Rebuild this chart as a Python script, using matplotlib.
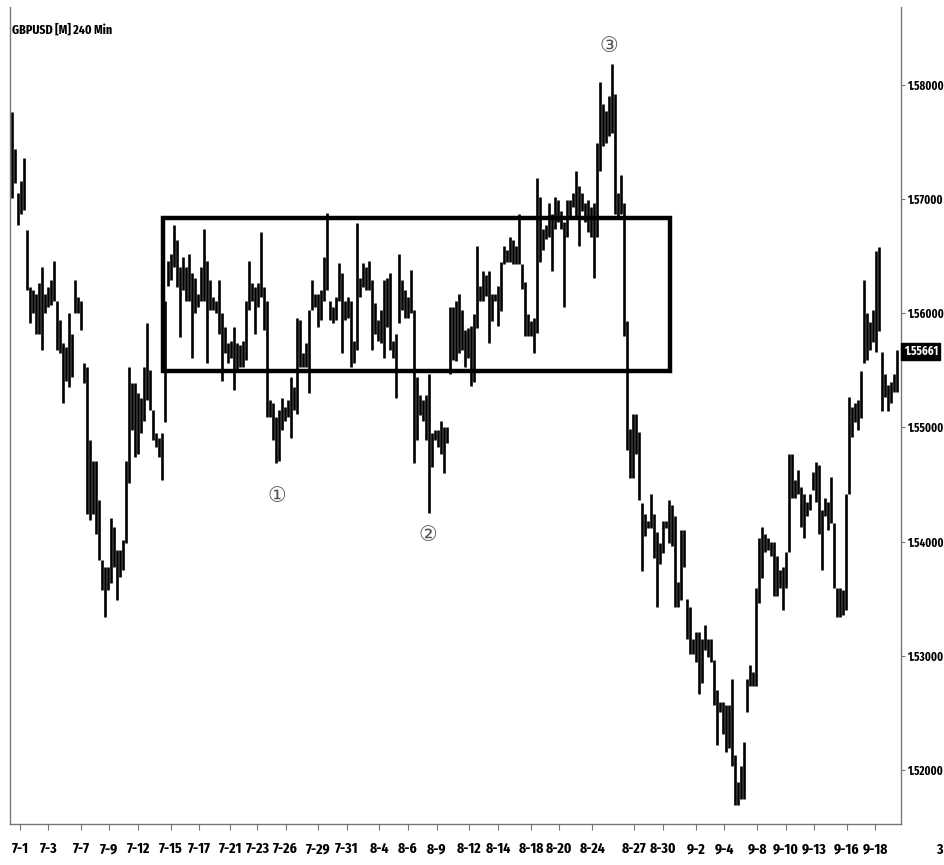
import os
import matplotlib
matplotlib.use("Agg")
import matplotlib.pyplot as plt
from matplotlib import font_manager
from matplotlib.font_manager import FontProperties
from matplotlib.textpath import TextPath
from matplotlib.patches import Rectangle
import numpy as np

# GBPUSD 240 min bars (one entry per ~3 px of the original)
bar_high = [
    1.5776, 1.5744, 1.5705, 1.5716, 1.5736, 1.5673, 1.5623, 1.5620, 1.5617, 1.5626,
    1.5640, 1.5617, 1.5623, 1.5629, 1.5646, 1.5611, 1.5594, 1.5574, 1.5570, 1.5600,
    1.5582, 1.5629, 1.5614, 1.5611, 1.5556, 1.5553, 1.5489, 1.5471, 1.5471, 1.5436,
    1.5384, 1.5378, 1.5378, 1.5421, 1.5413, 1.5393, 1.5393, 1.5401, 1.5471, 1.5553,
    1.5539, 1.5539, 1.5530, 1.5526, 1.5553, 1.5591, 1.5550, 1.5515, 1.5495, 1.5491,
    1.5495, 1.5611, 1.5646, 1.5652, 1.5677, 1.5664, 1.5640, 1.5649, 1.5640, 1.5652,
    1.5635, 1.5631, 1.5617, 1.5640, 1.5674, 1.5646, 1.5629, 1.5614, 1.5611, 1.5629,
    1.5600, 1.5588, 1.5574, 1.5576, 1.5588, 1.5574, 1.5572, 1.5576, 1.5611, 1.5646,
    1.5626, 1.5623, 1.5626, 1.5671, 1.5623, 1.5611, 1.5524, 1.5521, 1.5509, 1.5515,
    1.5526, 1.5518, 1.5524, 1.5544, 1.5535, 1.5596, 1.5594, 1.5565, 1.5574, 1.5603,
    1.5629, 1.5617, 1.5617, 1.5620, 1.5649, 1.5688, 1.5611, 1.5605, 1.5614, 1.5644,
    1.5635, 1.5611, 1.5614, 1.5611, 1.5576, 1.5679, 1.5631, 1.5644, 1.5640, 1.5646,
    1.5629, 1.5609, 1.5594, 1.5603, 1.5629, 1.5631, 1.5635, 1.5576, 1.5582, 1.5652,
    1.5629, 1.5620, 1.5614, 1.5638, 1.5603, 1.5544, 1.5528, 1.5524, 1.5528, 1.5547,
    1.5495, 1.5498, 1.5498, 1.5506, 1.5500, 1.5500, 1.5605, 1.5605, 1.5611, 1.5617,
    1.5603, 1.5585, 1.5587, 1.5589, 1.5599, 1.5659, 1.5624, 1.5637, 1.5633, 1.5637,
    1.5617, 1.5617, 1.5624, 1.5645, 1.5659, 1.5655, 1.5667, 1.5664, 1.5659, 1.5687,
    1.5643, 1.5627, 1.5599, 1.5593, 1.5596, 1.5718, 1.5702, 1.5674, 1.5677, 1.5696,
    1.5687, 1.5702, 1.5699, 1.5689, 1.5680, 1.5699, 1.5699, 1.5705, 1.5724, 1.5711,
    1.5705, 1.5696, 1.5699, 1.5693, 1.5696, 1.5749, 1.5802, 1.5783, 1.5777, 1.5790,
    1.5818, 1.5792, 1.5705, 1.5721, 1.5696, 1.5593, 1.5499, 1.5512, 1.5512, 1.5496,
    1.5434, 1.5424, 1.5418, 1.5442, 1.5424, 1.5408, 1.5399, 1.5418, 1.5418, 1.5436,
    1.5432, 1.5422, 1.5365, 1.5410, 1.5410, 1.5350, 1.5343, 1.5315, 1.5321, 1.5321,
    1.5315, 1.5327, 1.5315, 1.5315, 1.5296, 1.5270, 1.5260, 1.5260, 1.5257, 1.5257,
    1.5280, 1.5213, 1.5190, 1.5204, 1.5225, 1.5280, 1.5292, 1.5286, 1.5359, 1.5403,
    1.5413, 1.5407, 1.5403, 1.5400, 1.5400, 1.5387, 1.5375, 1.5378, 1.5391, 1.5477,
    1.5477, 1.5454, 1.5463, 1.5448, 1.5442, 1.5435, 1.5442, 1.5461, 1.5470, 1.5467,
    1.5428, 1.5438, 1.5435, 1.5457, 1.5416, 1.5359, 1.5359, 1.5358, 1.5442, 1.5527,
    1.5518, 1.5521, 1.5524, 1.5549, 1.5629, 1.5600, 1.5592, 1.5603, 1.5654, 1.5658,
    1.5566, 1.5547, 1.5537, 1.5540, 1.5547, 1.5568,
]
bar_low = [
    1.5701, 1.5714, 1.5677, 1.5687, 1.5690, 1.5620, 1.5591, 1.5600, 1.5582, 1.5582,
    1.5568, 1.5600, 1.5605, 1.5607, 1.5611, 1.5568, 1.5565, 1.5521, 1.5541, 1.5535,
    1.5544, 1.5600, 1.5600, 1.5585, 1.5539, 1.5424, 1.5419, 1.5424, 1.5407, 1.5384,
    1.5358, 1.5334, 1.5358, 1.5364, 1.5378, 1.5349, 1.5369, 1.5375, 1.5399, 1.5451,
    1.5498, 1.5474, 1.5477, 1.5495, 1.5506, 1.5524, 1.5515, 1.5489, 1.5483, 1.5474,
    1.5454, 1.5505, 1.5624, 1.5629, 1.5640, 1.5623, 1.5579, 1.5620, 1.5611, 1.5611,
    1.5561, 1.5600, 1.5605, 1.5611, 1.5611, 1.5556, 1.5603, 1.5603, 1.5600, 1.5582,
    1.5541, 1.5565, 1.5556, 1.5561, 1.5533, 1.5550, 1.5553, 1.5553, 1.5559, 1.5603,
    1.5611, 1.5582, 1.5605, 1.5614, 1.5585, 1.5509, 1.5509, 1.5489, 1.5469, 1.5471,
    1.5498, 1.5506, 1.5509, 1.5491, 1.5515, 1.5512, 1.5553, 1.5553, 1.5553, 1.5530,
    1.5603, 1.5605, 1.5588, 1.5594, 1.5611, 1.5620, 1.5594, 1.5591, 1.5594, 1.5611,
    1.5565, 1.5594, 1.5596, 1.5553, 1.5556, 1.5568, 1.5614, 1.5623, 1.5620, 1.5620,
    1.5568, 1.5582, 1.5576, 1.5574, 1.5561, 1.5588, 1.5568, 1.5561, 1.5526, 1.5591,
    1.5603, 1.5596, 1.5596, 1.5600, 1.5469, 1.5489, 1.5511, 1.5506, 1.5489, 1.5425,
    1.5465, 1.5489, 1.5483, 1.5477, 1.5460, 1.5486, 1.5547, 1.5559, 1.5558, 1.5565,
    1.5568, 1.5553, 1.5561, 1.5536, 1.5540, 1.5587, 1.5611, 1.5611, 1.5615, 1.5574,
    1.5593, 1.5611, 1.5589, 1.5602, 1.5643, 1.5645, 1.5645, 1.5643, 1.5643, 1.5643,
    1.5621, 1.5580, 1.5580, 1.5580, 1.5565, 1.5583, 1.5645, 1.5655, 1.5665, 1.5667,
    1.5637, 1.5674, 1.5680, 1.5674, 1.5605, 1.5667, 1.5683, 1.5693, 1.5683, 1.5659,
    1.5689, 1.5680, 1.5671, 1.5667, 1.5631, 1.5667, 1.5724, 1.5746, 1.5749, 1.5755,
    1.5758, 1.5687, 1.5683, 1.5687, 1.5580, 1.5480, 1.5456, 1.5456, 1.5477, 1.5436,
    1.5374, 1.5405, 1.5412, 1.5412, 1.5386, 1.5343, 1.5380, 1.5390, 1.5412, 1.5399,
    1.5396, 1.5343, 1.5343, 1.5349, 1.5378, 1.5315, 1.5302, 1.5302, 1.5295, 1.5267,
    1.5276, 1.5305, 1.5299, 1.5295, 1.5257, 1.5222, 1.5251, 1.5232, 1.5216, 1.5219,
    1.5204, 1.5169, 1.5169, 1.5175, 1.5175, 1.5251, 1.5274, 1.5274, 1.5274, 1.5346,
    1.5368, 1.5391, 1.5393, 1.5387, 1.5352, 1.5352, 1.5359, 1.5340, 1.5359, 1.5391,
    1.5438, 1.5438, 1.5442, 1.5413, 1.5403, 1.5422, 1.5428, 1.5445, 1.5435, 1.5407,
    1.5375, 1.5422, 1.5410, 1.5416, 1.5359, 1.5334, 1.5334, 1.5336, 1.5340, 1.5442,
    1.5492, 1.5505, 1.5498, 1.5508, 1.5556, 1.5559, 1.5568, 1.5575, 1.5566, 1.5584,
    1.5514, 1.5527, 1.5514, 1.5521, 1.5531, 1.5531,
]
last_price = 1.55661

tick_labels = ["7-1", "7-3", "7-7", "7-9", "7-12", "7-15", "7-17", "7-21", "7-23", "7-26",
               "7-29", "7-31", "8-4", "8-6", "8-9", "8-12", "8-14", "8-18", "8-20", "8-24",
               "8-27", "8-30", "9-2", "9-4", "9-8", "9-10", "9-13", "9-16", "9-18"]
tick_bars = [2.7, 12.1, 23.0, 32.4, 42.1, 53.0, 62.4, 72.7, 81.8, 91.2,
             102.1, 111.6, 122.4, 131.8, 141.6, 152.4, 162.1, 173.0, 182.4, 193.4,
             207.4, 216.9, 228.0, 237.4, 248.4, 257.9, 267.3, 278.2, 287.7]
price_ticks = [1.52, 1.53, 1.54, 1.55, 1.56, 1.57, 1.58]

# trading range box and the numbered touches
box_bars = [50.3, 219.3]
box_prices = [1.5549, 1.5683]
marks = ["\u2460", "\u2461", "\u2462"]
mark_bars = [88.3, 138.7, 199.0]
mark_prices = [1.5440, 1.5406, 1.5834]


def pick_narrow():
    # the platform font is a very condensed bold one: take the narrowest bold face we have
    files = [f.fname for f in font_manager.fontManager.ttflist]
    prefs = ["extracondensed-bold", "extracondensedbold", "condensed-bold", "condensedbold",
             "narrow-bold", "narrowbold", "condbold", "cond-bold", "semicondensed-bold"]
    for p in prefs:
        for fn in sorted(files):
            base = os.path.basename(fn).lower()
            if p in base and "italic" not in base and "semi" not in base.replace(p, ""):
                return FontProperties(fname=fn)
    return FontProperties(family="DejaVu Sans", weight="bold", stretch="condensed")


base_fp = pick_narrow()


def fitted(sample, width_px, height_px):
    # font size that makes `sample` about width_px wide (but no taller than height_px)
    ext = TextPath((0, 0), sample, size=10, prop=base_fp).get_extents()
    size_w = 10 * width_px * 0.72 / ext.width
    size_h = 10 * height_px * 0.72 / ext.height
    fp = base_fp.copy()
    fp.set_size(min(size_w, size_h))
    return fp


ylab_fp = fitted("1.58000", 36, 15)
xlab_fp = fitted("8-12", 24, 21)
title_fp = fitted("GBPUSD [M] 240 Min", 99, 16)

fig = plt.figure(figsize=(9.45, 8.65), dpi=100)
fig.patch.set_facecolor("white")
ax = fig.add_axes([10 / 945, 41 / 865, 891 / 945, 817 / 865])

x = np.arange(len(bar_high))
ax.vlines(x, bar_low, bar_high, color="black", linewidth=1.9)

ax.add_patch(Rectangle((box_bars[0], box_prices[0]), box_bars[1] - box_bars[0],
                       box_prices[1] - box_prices[0], fill=False, edgecolor="black",
                       linewidth=3.2, zorder=3))

for m, b, p in zip(marks, mark_bars, mark_prices):
    ax.text(b, p, m, ha="center", va="center", fontsize=15, color="#555555",
            family=["DejaVu Sans", "Noto Sans CJK JP"])

ax.set_xlim(-0.7, 296.3)
ax.set_ylim(1.51528, 1.5868)

ax.yaxis.tick_right()
ax.set_yticks(price_ticks)
ax.set_yticklabels([f"{p:.5f}" for p in price_ticks], fontproperties=ylab_fp)
ax.set_xticks(tick_bars)
ax.set_xticklabels(tick_labels, fontproperties=xlab_fp)
ax.tick_params(axis="y", length=3, width=0.8, color="#777777", pad=1.5)
ax.tick_params(axis="x", length=4, width=0.8, color="#777777", pad=9)

for side in ["left", "right", "bottom"]:
    ax.spines[side].set_color("#777777")
    ax.spines[side].set_linewidth(1)
ax.spines["top"].set_visible(False)

# last price tag
ax.text(1.003, last_price, f"{last_price:.5f}", transform=ax.get_yaxis_transform(),
        ha="left", va="center", fontproperties=ylab_fp, color="white",
        bbox=dict(boxstyle="square,pad=0.2", facecolor="black", edgecolor="black"))

fig.text(12 / 945, 1 - 30 / 865, "GBPUSD [M] 240 Min", ha="left", va="center",
         fontproperties=title_fp)
fig.text(939 / 945, 1 - 850 / 865, "3", ha="center", va="center", fontproperties=xlab_fp)

fig.savefig("out.png", dpi=100, facecolor="white")
